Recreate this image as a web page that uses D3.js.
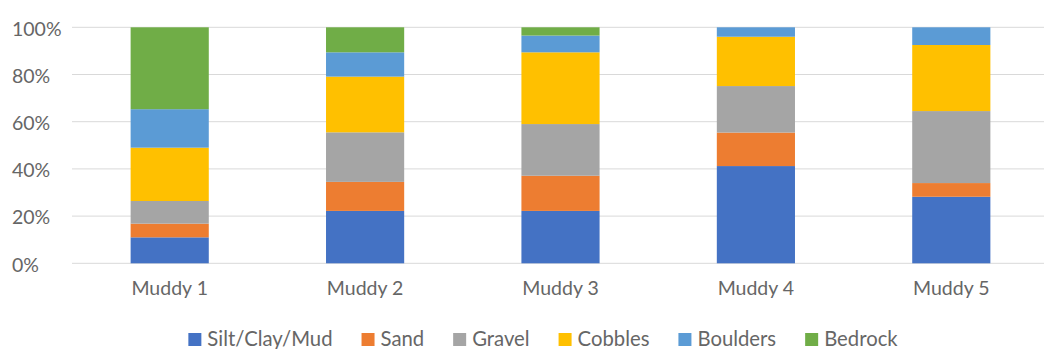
<!DOCTYPE html>
<html>
<head>
<meta charset="utf-8">
<script src="https://cdn.jsdelivr.net/npm/d3@7/dist/d3.min.js"></script>
<style>
  html, body { margin: 0; padding: 0; background: #ffffff; }
  svg { display: block; }
  text { font-family: Lato, "Open Sans", sans-serif; fill: #666666; }
</style>
</head>
<body>
<svg id="chart" width="1044" height="349"></svg>
<script>
// ---- data ----
const categories = ["Muddy 1", "Muddy 2", "Muddy 3", "Muddy 4", "Muddy 5"];
const seriesNames = ["Silt/Clay/Mud", "Sand", "Gravel", "Cobbles", "Boulders", "Bedrock"];
const siltClayMud = [11.0, 22.2, 22.2, 41.2, 28.2];
const sand        = [5.8, 12.3, 14.9, 14.2, 5.8];
const gravel      = [9.6, 21.0, 21.9, 19.7, 30.5];
const cobbles     = [22.6, 23.6, 30.4, 20.9, 28.0];
const boulders    = [16.3, 10.3, 7.1, 4.0, 7.5];
const bedrock     = [34.7, 10.6, 3.5, 0.0, 0.0];
const yTicks = [0, 0.2, 0.4, 0.6, 0.8, 1.0];
const colors = ["#4472C4", "#ED7D31", "#A5A5A5", "#FFC000", "#5B9BD5", "#70AD47"];

// ---- build table ----
const seriesValues = [siltClayMud, sand, gravel, cobbles, boulders, bedrock];
const table = categories.map((c, i) => {
  const row = { category: c };
  seriesNames.forEach((s, j) => { row[s] = seriesValues[j][i]; });
  return row;
});
const stack = d3.stack().keys(seriesNames).offset(d3.stackOffsetExpand);
const stacked = stack(table);

const svg = d3.select("#chart");
const fontSize = 19.5;
const legendFontSize = 20.3;

const x = d3.scaleBand().domain(categories).range([72, 1049]).paddingInner(0.6).paddingOuter(0.3);
const y = d3.scaleLinear().domain([0, 1]).range([263.3, 27.3]);
const color = d3.scaleOrdinal().domain(seriesNames).range(colors);

// gridlines
svg.append("g").selectAll("line").data(yTicks).join("line")
  .attr("x1", 72).attr("x2", 1044)
  .attr("y1", d => y(d)).attr("y2", d => y(d))
  .attr("stroke", "#d9d9d9").attr("stroke-width", 1);

// y tick labels
const yAxis = d3.axisLeft(y).tickValues(yTicks).tickFormat(d3.format(".0%")).tickSize(0);
const gy = svg.append("g").attr("transform", "translate(12,1.5)").call(yAxis);
gy.select(".domain").remove();
gy.selectAll("text").attr("text-anchor", "start").attr("x", 0)
  .style("font-size", fontSize + "px").style("font-family", "Lato, 'Open Sans', sans-serif").attr("fill", "#666666");

// bars
svg.append("g").selectAll("g").data(stacked).join("g")
  .attr("fill", d => color(d.key))
  .selectAll("rect").data(d => d).join("rect")
  .attr("x", d => x(d.data.category))
  .attr("width", x.bandwidth())
  .attr("y", d => y(d[1]))
  .attr("height", d => Math.max(0, y(d[0]) - y(d[1])));

// x axis labels
const xAxis = d3.axisBottom(x).tickSize(0);
const gx = svg.append("g").attr("transform", "translate(0,279)").call(xAxis);
gx.select(".domain").remove();
gx.selectAll("text").attr("y", 2)
  .style("font-size", fontSize + "px").style("font-family", "Lato, 'Open Sans', sans-serif").attr("fill", "#666666");

// legend
const legend = svg.append("g");
const items = legend.selectAll("g").data(seriesNames).join("g");
items.append("rect").attr("width", 13).attr("height", 13).attr("y", 333).attr("fill", d => color(d));
items.append("text").attr("x", 19).attr("y", 346).text(d => d).style("font-size", legendFontSize + "px");
let cx = 0;
const gap = 29;
const positions = [];
items.each(function () {
  const w = 19 + d3.select(this).select("text").node().getComputedTextLength();
  positions.push(cx);
  cx += w + gap;
});
const total = cx - gap;
const start = 543 - total / 2;
items.attr("transform", (d, i) => `translate(${start + positions[i]},0)`);
</script>
</body>
</html>
